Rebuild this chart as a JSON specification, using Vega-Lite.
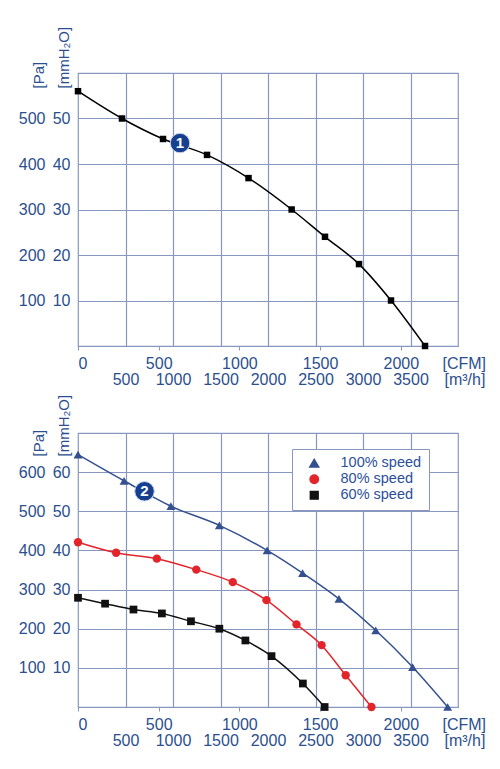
{
  "$schema": "https://vega.github.io/schema/vega-lite/v6.json",
  "background": "white",
  "padding": {"left": 17, "top": 25, "right": 4, "bottom": 4},
  "spacing": 5,
  "resolve": {
    "scale": {"color": "independent", "shape": "independent", "size": "independent"},
    "legend": {"color": "independent", "shape": "independent", "size": "independent"}
  },
  "config": {
    "font": "Liberation Sans",
    "view": {"stroke": "#8797bf", "strokeWidth": 1.2},
    "axis": {
      "labelFont": "Liberation Sans",
      "labelFontSize": 16,
      "labelColor": "#2b4f8e",
      "titleFont": "Liberation Sans",
      "titleFontSize": 15,
      "titleFontWeight": "normal",
      "titleColor": "#2b4f8e",
      "gridColor": "#8797bf",
      "gridOpacity": 1,
      "gridWidth": 1.2,
      "domainColor": "#8797bf",
      "domainWidth": 1.2,
      "tickColor": "#8797bf",
      "labelOverlap": false
    },
    "legend": {
      "labelFont": "Liberation Sans",
      "labelFontSize": 14.5,
      "labelColor": "#2b4f9a"
    }
  },
  "datasets": {
    "single": [
      {"flow": 0, "pa": 560},
      {"flow": 463, "pa": 500},
      {"flow": 895, "pa": 455},
      {"flow": 1358, "pa": 420},
      {"flow": 1795, "pa": 369},
      {"flow": 2249, "pa": 300},
      {"flow": 2600, "pa": 240},
      {"flow": 2958, "pa": 180},
      {"flow": 3295, "pa": 100},
      {"flow": 3653, "pa": 0}
    ],
    "speeds": [
      {"series": "100% speed", "flow": 0, "pa": 645},
      {"series": "100% speed", "flow": 485, "pa": 578},
      {"series": "100% speed", "flow": 978, "pa": 513},
      {"series": "100% speed", "flow": 1488, "pa": 464},
      {"series": "100% speed", "flow": 1991, "pa": 400},
      {"series": "100% speed", "flow": 2364, "pa": 342},
      {"series": "100% speed", "flow": 2747, "pa": 276},
      {"series": "100% speed", "flow": 3134, "pa": 196},
      {"series": "100% speed", "flow": 3522, "pa": 102},
      {"series": "100% speed", "flow": 3891, "pa": 0},
      {"series": "80% speed", "flow": 0, "pa": 421},
      {"series": "80% speed", "flow": 401, "pa": 394},
      {"series": "80% speed", "flow": 830, "pa": 379},
      {"series": "80% speed", "flow": 1245, "pa": 351},
      {"series": "80% speed", "flow": 1629, "pa": 319},
      {"series": "80% speed", "flow": 1984, "pa": 273},
      {"series": "80% speed", "flow": 2300, "pa": 211},
      {"series": "80% speed", "flow": 2564, "pa": 158},
      {"series": "80% speed", "flow": 2818, "pa": 81},
      {"series": "80% speed", "flow": 3089, "pa": 0},
      {"series": "60% speed", "flow": 0, "pa": 279},
      {"series": "60% speed", "flow": 285, "pa": 264},
      {"series": "60% speed", "flow": 584, "pa": 249},
      {"series": "60% speed", "flow": 883, "pa": 239},
      {"series": "60% speed", "flow": 1189, "pa": 219},
      {"series": "60% speed", "flow": 1488, "pa": 200},
      {"series": "60% speed", "flow": 1762, "pa": 170},
      {"series": "60% speed", "flow": 2037, "pa": 130},
      {"series": "60% speed", "flow": 2367, "pa": 60},
      {"series": "60% speed", "flow": 2596, "pa": 0}
    ]
  },
  "vconcat": [
    {
      "width": 380,
      "height": 273,
      "resolve": {"axis": {"x": "independent", "y": "independent"}},
      "layer": [
        {
          "data": {"name": "single"},
          "mark": {"type": "line", "color": "black", "strokeWidth": 1.5, "interpolate": "monotone"},
          "encoding": {
            "x": {
              "field": "flow", "type": "quantitative",
              "scale": {"domain": [0, 4000], "nice": false},
              "axis": {
                "orient": "bottom", "values": [500, 1000, 1500, 2000, 2500, 3000, 3500], "format": "d",
                "grid": true, "domain": false, "ticks": false, "labelPadding": 25, "labelDx": 2,
                "title": "[m³/h]", "titleX": 366, "titleY": 25, "titleAlign": "left", "titleBaseline": "top", "titleFontSize": 16
              }
            },
            "y": {
              "field": "pa", "type": "quantitative",
              "scale": {"domain": [0, 600], "nice": false},
              "axis": {
                "orient": "left", "values": [100, 200, 300, 400, 500],
                "grid": true, "domain": false, "ticks": false, "labelPadding": 33,
                "title": "[Pa]", "titleAngle": 270, "titleX": -40, "titleY": 15, "titleAlign": "left", "titleBaseline": "middle"
              }
            }
          }
        },
        {
          "data": {"name": "single"},
          "mark": {"type": "square", "color": "black", "size": 42, "opacity": 1},
          "encoding": {
            "x": {
              "field": "flow", "type": "quantitative",
              "axis": {
                "orient": "bottom", "values": [0, 849.5, 1699, 2548.5, 3398],
                "labelExpr": "round(datum.value / 1.699)",
                "grid": false, "domain": true, "ticks": true, "tickSize": 4, "labelPadding": 5, "labelDx": 3,
                "title": "[CFM]", "titleX": 364, "titleY": 9, "titleAlign": "left", "titleBaseline": "top", "titleFontSize": 16
              }
            },
            "y": {
              "field": "pa", "type": "quantitative",
              "axis": {
                "orient": "left", "values": [100, 200, 300, 400, 500],
                "labelExpr": "datum.value / 10",
                "grid": false, "domain": false, "ticks": false, "labelPadding": 8,
                "title": "[mmH₂O]", "titleAngle": 270, "titleX": -15, "titleY": 15, "titleAlign": "left", "titleBaseline": "middle"
              }
            }
          }
        },
        {
          "data": {"values": [{"flow": 1074, "pa": 446, "label": "1"}]},
          "mark": {"type": "circle", "color": "#163f8f", "size": 380, "opacity": 1, "stroke": "#c8d2ea", "strokeWidth": 1},
          "encoding": {
            "x": {"field": "flow", "type": "quantitative", "axis": null},
            "y": {"field": "pa", "type": "quantitative", "axis": null}
          }
        },
        {
          "data": {"values": [{"flow": 1074, "pa": 446, "label": "1"}]},
          "mark": {"type": "text", "color": "white", "fontSize": 15, "fontWeight": "bold", "font": "Liberation Sans"},
          "encoding": {
            "x": {"field": "flow", "type": "quantitative", "axis": null},
            "y": {"field": "pa", "type": "quantitative", "axis": null},
            "text": {"field": "label"}
          }
        }
      ]
    },
    {
      "width": 380,
      "height": 274,
      "resolve": {"axis": {"x": "independent", "y": "independent"}},
      "layer": [
        {
          "data": {"name": "speeds"},
          "mark": {"type": "line", "strokeWidth": 1.5, "interpolate": "monotone"},
          "encoding": {
            "x": {
              "field": "flow", "type": "quantitative",
              "scale": {"domain": [0, 4000], "nice": false},
              "axis": {
                "orient": "bottom", "values": [500, 1000, 1500, 2000, 2500, 3000, 3500], "format": "d",
                "grid": true, "domain": false, "ticks": false, "labelPadding": 25, "labelDx": 2,
                "title": "[m³/h]", "titleX": 366, "titleY": 25, "titleAlign": "left", "titleBaseline": "top", "titleFontSize": 16
              }
            },
            "y": {
              "field": "pa", "type": "quantitative",
              "scale": {"domain": [0, 700], "nice": false},
              "axis": {
                "orient": "left", "values": [100, 200, 300, 400, 500, 600],
                "grid": true, "domain": false, "ticks": false, "labelPadding": 33,
                "title": "[Pa]", "titleAngle": 270, "titleX": -40, "titleY": 23, "titleAlign": "left", "titleBaseline": "middle"
              }
            },
            "color": {
              "field": "series", "type": "nominal",
              "scale": {"domain": ["100% speed", "80% speed", "60% speed"], "range": ["#34508f", "#e3242b", "#111111"]},
              "legend": {
                "title": null, "orient": "none", "legendX": 214, "legendY": 16,
                "fillColor": "white", "strokeColor": "#8797bf", "padding": 7,
                "symbolSize": 60, "rowPadding": 0, "symbolOffset": 8, "labelOffset": 19
              }
            }
          }
        },
        {
          "data": {"name": "speeds"},
          "mark": {"type": "point", "filled": true, "opacity": 1},
          "encoding": {
            "x": {
              "field": "flow", "type": "quantitative",
              "axis": {
                "orient": "bottom", "values": [0, 849.5, 1699, 2548.5, 3398],
                "labelExpr": "round(datum.value / 1.699)",
                "grid": false, "domain": true, "ticks": true, "tickSize": 4, "labelPadding": 5, "labelDx": 3,
                "title": "[CFM]", "titleX": 364, "titleY": 9, "titleAlign": "left", "titleBaseline": "top", "titleFontSize": 16
              }
            },
            "y": {
              "field": "pa", "type": "quantitative",
              "axis": {
                "orient": "left", "values": [100, 200, 300, 400, 500, 600],
                "labelExpr": "datum.value / 10",
                "grid": false, "domain": false, "ticks": false, "labelPadding": 8,
                "title": "[mmH₂O]", "titleAngle": 270, "titleX": -15, "titleY": 23, "titleAlign": "left", "titleBaseline": "middle"
              }
            },
            "color": {
              "field": "series", "type": "nominal",
              "scale": {"domain": ["100% speed", "80% speed", "60% speed"], "range": ["#34508f", "#e3242b", "#111111"]},
              "legend": {
                "title": null, "orient": "none", "legendX": 214, "legendY": 16,
                "fillColor": "white", "strokeColor": "#8797bf", "padding": 7,
                "symbolSize": 60, "rowPadding": 0, "symbolOffset": 8, "labelOffset": 19
              }
            },
            "shape": {
              "field": "series", "type": "nominal",
              "scale": {"domain": ["100% speed", "80% speed", "60% speed"], "range": ["triangle-up", "circle", "square"]},
              "legend": {
                "title": null, "orient": "none", "legendX": 214, "legendY": 16,
                "fillColor": "white", "strokeColor": "#8797bf", "padding": 7,
                "symbolSize": 60, "rowPadding": 0, "symbolOffset": 8, "labelOffset": 19
              }
            },
            "size": {
              "field": "series", "type": "nominal",
              "scale": {"domain": ["100% speed", "80% speed", "60% speed"], "range": [80, 60, 55]},
              "legend": null
            }
          }
        },
        {
          "data": {"values": [{"flow": 700, "pa": 551, "label": "2"}]},
          "mark": {"type": "circle", "color": "#163f8f", "size": 380, "opacity": 1, "stroke": "#c8d2ea", "strokeWidth": 1},
          "encoding": {
            "x": {"field": "flow", "type": "quantitative", "axis": null},
            "y": {"field": "pa", "type": "quantitative", "axis": null}
          }
        },
        {
          "data": {"values": [{"flow": 700, "pa": 551, "label": "2"}]},
          "mark": {"type": "text", "color": "white", "fontSize": 15, "fontWeight": "bold", "font": "Liberation Sans"},
          "encoding": {
            "x": {"field": "flow", "type": "quantitative", "axis": null},
            "y": {"field": "pa", "type": "quantitative", "axis": null},
            "text": {"field": "label"}
          }
        }
      ]
    }
  ]
}
